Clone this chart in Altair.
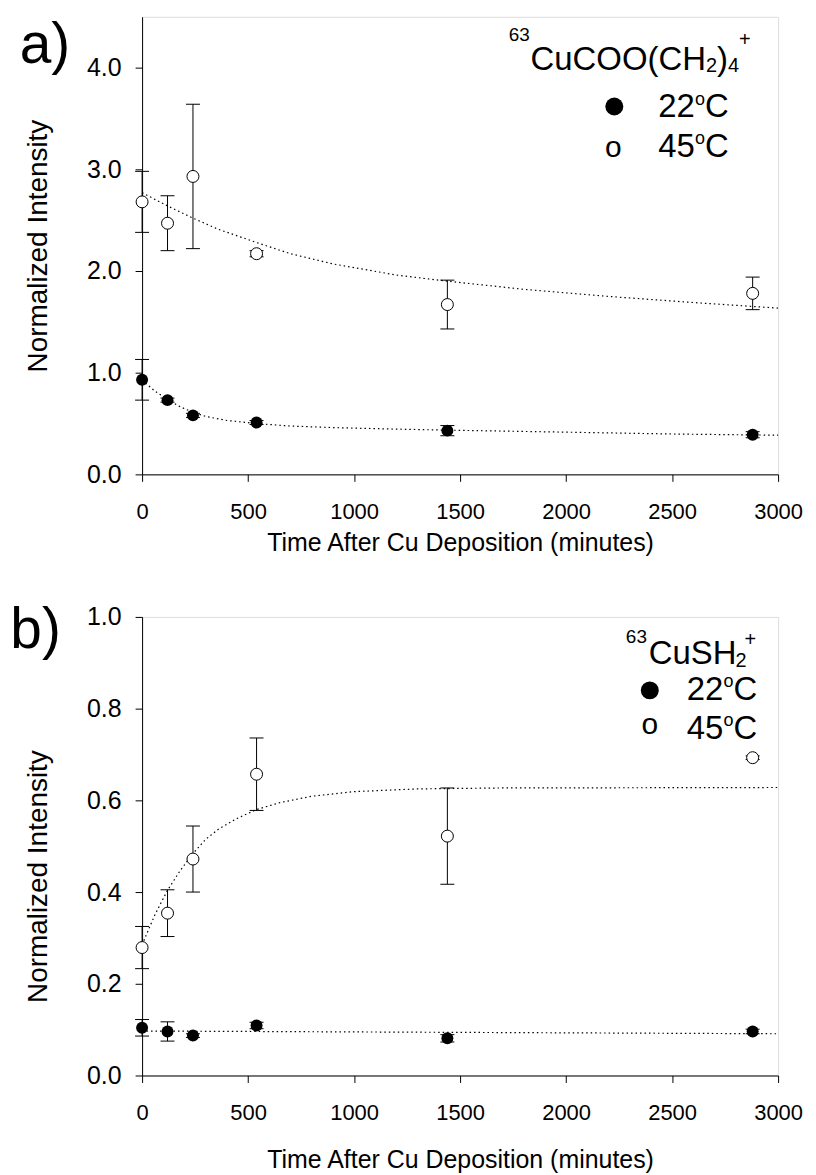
import altair as alt
import pandas as pd

FONT = "Liberation Sans"
XTICK = 22
YTICK = 25
XTITLE = 25
YTITLE = 28
LEG = 33
SUB = 20
PANEL_LABEL = 57

# ---------------- data ----------------
time_min = [0, 120, 240, 540, 1440, 2880]

# panel a: 63CuCOO(CH2)4+
a22 = [0.93, 0.73, 0.58, 0.51, 0.43, 0.39]
a22_err = [0.20, 0.02, 0.02, 0.02, 0.05, 0.03]
a45 = [2.68, 2.47, 2.93, 2.17, 1.67, 1.78]
a45_err = [0.30, 0.27, 0.71, 0.03, 0.24, 0.16]

fit_a22_t = [0, 60, 120, 180, 240, 300, 400, 540, 700, 900, 1200, 1440, 2000, 2500, 3000]
fit_a22_y = [0.925, 0.82, 0.735, 0.665, 0.61, 0.57, 0.53, 0.50, 0.475, 0.46, 0.445, 0.435, 0.415, 0.397, 0.385]
fit_a45_t = [0, 120, 240, 360, 540, 700, 900, 1200, 1440, 1800, 2200, 2600, 3000]
fit_a45_y = [2.77, 2.64, 2.52, 2.41, 2.28, 2.17, 2.07, 1.96, 1.90, 1.82, 1.75, 1.69, 1.635]

# panel b: 63CuSH2+
b22 = [0.104, 0.096, 0.087, 0.109, 0.081, 0.096]
b22_err = [0.018, 0.021, 0.004, 0.007, 0.008, 0.005]
b45 = [0.279, 0.354, 0.472, 0.657, 0.522, 0.693]
b45_err = [0.046, 0.051, 0.072, 0.079, 0.105, 0.004]

fit_b22_t = [0, 1000, 2000, 3000]
fit_b22_y = [0.097, 0.095, 0.093, 0.091]
fit_b45_t = [0, 60, 120, 180, 240, 300, 360, 450, 540, 650, 800, 1000, 1300, 1700, 3000]
fit_b45_y = [0.285, 0.35, 0.404, 0.447, 0.484, 0.515, 0.537, 0.561, 0.58, 0.595, 0.609, 0.619, 0.625, 0.627, 0.628]

x_ticks = [0, 500, 1000, 1500, 2000, 2500, 3000]
a_yticks = [0, 1, 2, 3, 4]
b_yticks = [0, 0.2, 0.4, 0.6, 0.8, 1.0]

W = 638
H_A = 459
H_B = 460
ORIG_A = (132.3, 14.0)
ORIG_B = (141.7, 614.3)

ONE = alt.Data(values=[{}])


def pts_df(y, err):
    return pd.DataFrame({
        "t": time_min,
        "y": y,
        "lo": [v - e for v, e in zip(y, err)],
        "hi": [v + e for v, e in zip(y, err)],
    })


def fit_df(t, y):
    return pd.DataFrame({"t": t, "y": y})


def txt(s, px, py, size, origin, align="left", baseline="alphabetic"):
    ox, oy = origin
    return alt.Chart(ONE).mark_text(
        text=s, font=FONT, fontSize=size, color="black", align=align, baseline=baseline
    ).encode(x=alt.value(px - ox), y=alt.value(py - oy))


def dot(px, py, origin, size):
    ox, oy = origin
    return alt.Chart(ONE).mark_point(
        shape="circle", filled=True, color="black", opacity=1, size=size
    ).encode(x=alt.value(px - ox), y=alt.value(py - oy))


def panel(d22, d45, f22, f45, ydom, yticks, title_y, ytitle_x, ytitle_y):
    xs = alt.Scale(domain=[0, 3000], nice=False, zero=False)
    ys = alt.Scale(domain=ydom, nice=False, zero=False)
    xax = alt.Axis(values=x_ticks, format="d", title="Time After Cu Deposition (minutes)",
                   grid=False, tickSize=7, tickColor="black", domainColor="black",
                   labelColor="black", titleColor="black", labelFont=FONT,
                   labelFontSize=XTICK, titleFont=FONT, titleFontSize=XTITLE,
                   titleFontWeight="normal", labelPadding=20, labelFlush=False,
                   titleBaseline="alphabetic", titleY=title_y)
    yax = alt.Axis(values=yticks, format=".1f", title="Normalized Intensity", grid=False,
                   tickSize=7, tickColor="black", domainColor="black", labelColor="black",
                   titleColor="black", labelFont=FONT, labelFontSize=YTICK, titleFont=FONT,
                   titleFontSize=YTITLE, titleFontWeight="normal", labelPadding=14,
                   titleBaseline="alphabetic", titleX=ytitle_x, titleY=ytitle_y,
                   titleAngle=270)
    X = alt.X("t:Q", scale=xs, axis=xax)
    Y = alt.Y("y:Q", scale=ys, axis=yax)
    layers = []
    for f in (f22, f45):
        layers.append(alt.Chart(f).mark_line(color="black", strokeWidth=1.2,
                                             strokeDash=[1.5, 3]).encode(x=X, y=Y))
    for d in (d22, d45):
        layers.append(alt.Chart(d).mark_rule(color="black", strokeWidth=1).encode(
            x=X, y=alt.Y("lo:Q", scale=ys), y2="hi:Q"))
        for col in ("lo", "hi"):
            layers.append(alt.Chart(d).mark_rule(color="black", strokeWidth=1,
                                                 xOffset=-7, x2Offset=7).encode(
                x=X, x2=alt.X2("t"), y=alt.Y(f"{col}:Q", scale=ys)))
    layers.append(alt.Chart(d22).mark_point(shape="circle", filled=True, color="black",
                                            opacity=1, size=144).encode(x=X, y=Y))
    layers.append(alt.Chart(d45).mark_point(shape="circle", filled=True, fill="white",
                                            stroke="black", strokeWidth=1, opacity=1,
                                            size=144).encode(x=X, y=Y))
    return layers


# ---------------- panel a ----------------
layers_a = panel(pts_df(a22, a22_err), pts_df(a45, a45_err),
                 fit_df(fit_a22_t, fit_a22_y), fit_df(fit_a45_t, fit_a45_y),
                 [0, 4.5], a_yticks, 76, -96, H_A / 2)
oa = ORIG_A
layers_a += [
    txt("a)", 9.5, 60, PANEL_LABEL, oa),
    txt("63", 500, 38, 19, oa),
    txt("CuCOO(CH", 522, 67, LEG, oa),
    txt("2", 698, 69, SUB, oa),
    txt(")", 709, 67, LEG, oa),
    txt("4", 720, 69, SUB, oa),
    txt("+", 731, 43, SUB, oa),
    dot(606, 104, oa, 324),
    txt("22", 650, 115, LEG, oa),
    txt("o", 687, 102, 18, oa),
    txt("C", 697, 115, LEG, oa),
    txt("o", 605, 155, 30, oa, align="center"),
    txt("45", 650, 155, LEG, oa),
    txt("o", 687, 142, 18, oa),
    txt("C", 697, 155, LEG, oa),
]
chart_a = alt.layer(*layers_a).properties(width=W, height=H_A)

# ---------------- panel b ----------------
layers_b = panel(pts_df(b22, b22_err), pts_df(b45, b45_err),
                 fit_df(fit_b22_t, fit_b22_y), fit_df(fit_b45_t, fit_b45_y),
                 [0, 1.0], b_yticks, 92, -96, H_B / 2 + 30)
ob = ORIG_B
layers_b += [
    txt("b)", 9.5, 645, PANEL_LABEL, ob),
    txt("63", 627, 640, 19, ob),
    txt("CuSH", 650, 662, LEG, ob),
    txt("2", 737, 665, SUB, ob),
    txt("+", 746, 643, SUB, ob),
    dot(651, 688, ob, 324),
    txt("22", 688, 698, LEG, ob),
    txt("o", 725, 685, 18, ob),
    txt("C", 735, 698, LEG, ob),
    txt("o", 651, 732, 30, ob, align="center"),
    txt("45", 688, 737, LEG, ob),
    txt("o", 725, 724, 18, ob),
    txt("C", 735, 737, LEG, ob),
]
chart_b = alt.layer(*layers_b).properties(width=W, height=H_B)

chart = alt.concat(chart_a, chart_b, columns=1, spacing=45, align="none", bounds="full").properties(
    padding={"left": 1.5, "top": 6, "right": 5, "bottom": 0}
).configure_view(stroke="black", strokeWidth=1).configure(font=FONT)

chart.save("out.html", embed_options={"renderer": "svg", "actions": False})
